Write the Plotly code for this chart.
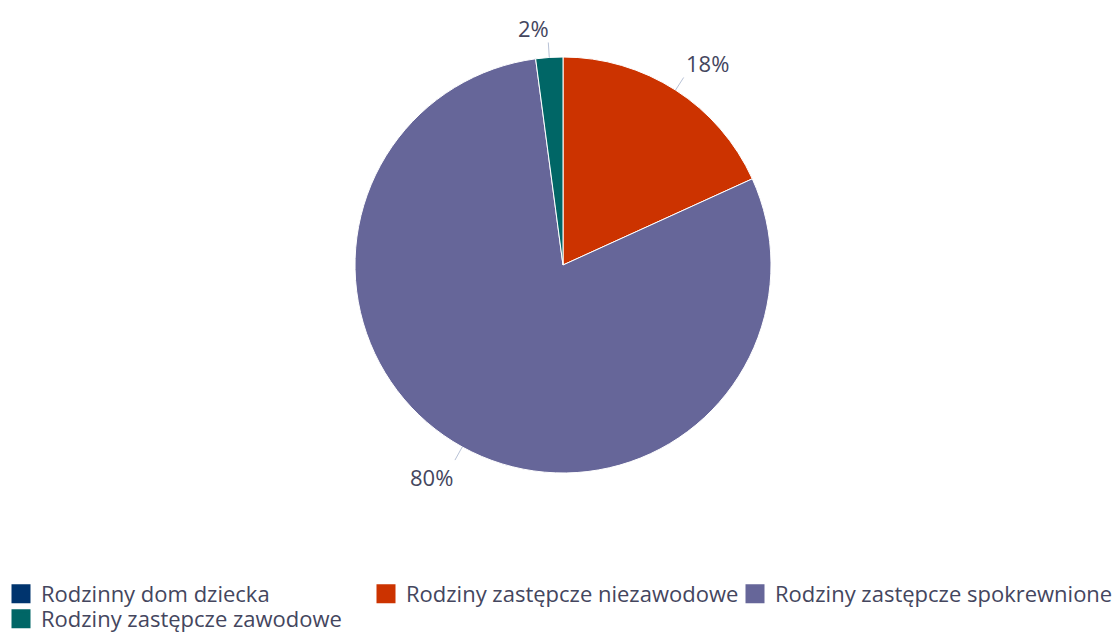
import math
import plotly.graph_objects as go

labels = [
    "Rodzinny dom dziecka",
    "Rodziny zastępcze niezawodowe",
    "Rodziny zastępcze spokrewnione",
    "Rodziny zastępcze zawodowe",
]
values = [0, 18.2, 79.7, 2.1]
colors = ["#00346e", "#cc3300", "#666699", "#006666"]

W, H = 1117, 634
text_color = "#44465e"
font_family = "Open Sans"

# pie geometry in pixels
cx, cy, r = 563, 265, 208

fig = go.Figure()

fig.add_trace(
    go.Pie(
        labels=labels,
        values=values,
        sort=False,
        direction="clockwise",
        rotation=0,
        marker=dict(colors=colors, line=dict(color="white", width=1)),
        textinfo="none",
        hoverinfo="label+percent",
        domain=dict(
            x=[(cx - r) / W, (cx + r) / W],
            y=[1 - (cy + r) / H, 1 - (cy - r) / H],
        ),
        showlegend=False,
    )
)

# percentage labels with short connectors, placed from slice mid-angles
total = sum(values)
cum = 0
for v in values:
    if v <= 0:
        continue
    mid = (cum + v / 2) / total * 2 * math.pi
    cum += v
    s, c = math.sin(mid), math.cos(mid)
    x0, y0 = cx + r * s, cy - r * c
    x1, y1 = cx + (r + 15) * s, cy - (r + 15) * c
    fig.add_shape(
        type="line", xref="paper", yref="paper",
        x0=x0 / W, y0=1 - y0 / H, x1=x1 / W, y1=1 - y1 / H,
        line=dict(color="#b8c2d6", width=1),
    )
    fig.add_annotation(
        xref="paper", yref="paper",
        x=x1 / W, y=1 - y1 / H,
        text=f"{round(v / total * 100)}%",
        showarrow=False,
        xanchor="left" if s > 0 else "right",
        yanchor="bottom" if c > 0 else "top",
        yshift=-3 if c > 0 else 0,
        xshift=3 if (s < 0 and c > 0) else 0,
        font=dict(size=22, color=text_color, family=font_family),
    )

# legend entries: one small legend per entry so no text gets clipped
legend_of = ["legend", "legend2", "legend3", "legend4"]
for lab, col, lg in zip(labels, colors, legend_of):
    fig.add_trace(
        go.Scatter(
            x=[None], y=[None], mode="markers", name=lab,
            marker=dict(symbol="square", size=16, color=col,
                        line=dict(color=col, width=3)),
            legend=lg,
        )
    )

legend_common = dict(
    orientation="h",
    xanchor="left",
    yanchor="middle",
    font=dict(size=22, color=text_color, family=font_family),
    itemsizing="trace",
    bgcolor="rgba(0,0,0,0)",
)

fig.update_layout(
    width=W,
    height=H,
    margin=dict(l=0, r=0, t=0, b=0, autoexpand=False),
    paper_bgcolor="white",
    plot_bgcolor="white",
    font=dict(family=font_family, size=22, color=text_color),
    xaxis=dict(visible=False),
    yaxis=dict(visible=False),
    legend=dict(legend_common, x=1 / W, y=1 - 594 / H),
    legend2=dict(legend_common, x=366 / W, y=1 - 594 / H),
    legend3=dict(legend_common, x=735 / W, y=1 - 594 / H),
    legend4=dict(legend_common, x=1 / W, y=1 - 619 / H),
)

# drop the default page margin so the figure sits at the window's corner
fig.write_html(
    "out.html",
    config={"displayModeBar": False},
    post_script="document.body.style.margin = '0';",
)
